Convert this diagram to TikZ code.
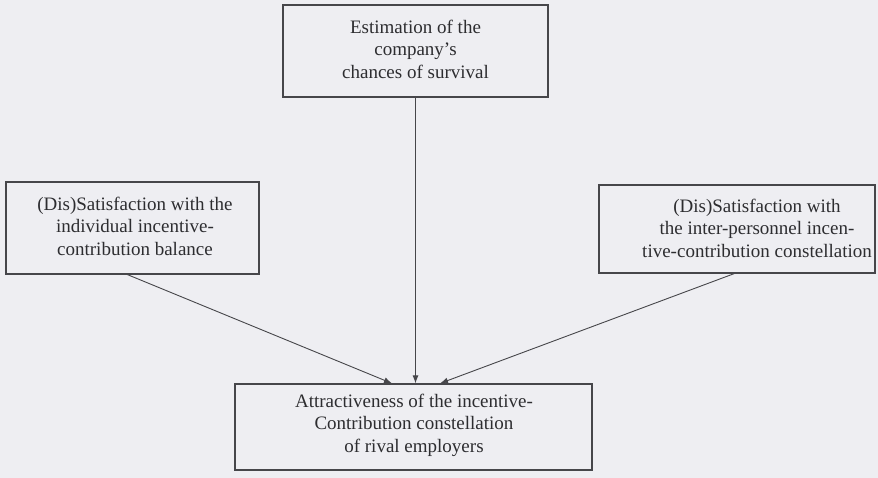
\documentclass[tikz,border=0pt]{standalone}
\usepackage{fontspec}
\setmainfont{Liberation Serif}
\usetikzlibrary{arrows.meta,calc}
\definecolor{paper}{RGB}{238,238,242}
\definecolor{ink}{RGB}{70,70,74}
\definecolor{txt}{RGB}{45,45,48}
\begin{document}
\begin{tikzpicture}[x=1pt,y=-1pt,
  box/.style={draw=ink, line width=1.2pt, fill=paper, inner sep=0pt},
  lbl/.style={font=\fontsize{19}{22.5}\selectfont, text=txt, align=center, inner sep=0pt},
  conn/.style={draw=ink, line width=0.9pt, -{Latex[length=8pt,width=6pt]}}]
\fill[paper] (0,0) rectangle (878,478);
\useasboundingbox (0,0) rectangle (878,478);

\node[box, minimum width=265pt, minimum height=92pt] (top) at (415.5,51) {};
\node[lbl] (toptext) at (415.5,49) {Estimation of the\\company’s\\chances of survival};

\node[box, minimum width=253pt, minimum height=92pt] (lb) at (132.5,228) {};
\node[lbl] (lbtext) at (135,226) {(Dis)Satisfaction with the\\individual incentive-\\contribution balance};

\node[box, minimum width=276pt, minimum height=88pt] (rb) at (737,229) {};
\node[lbl] (rbtext) at (757,228) {(Dis)Satisfaction with\\the inter-personnel incen-\\tive-contribution constellation};

\node[box, minimum width=357pt, minimum height=86pt] (bot) at (413.5,427) {};
\node[lbl] (bottext) at (414,425) {Attractiveness of the incentive-\\Contribution constellation\\of rival employers};

\draw[conn] (top.south) -- (top.south |- bot.north);
\draw[conn] ($(lb.south west)!0.48!(lb.south east)$) -- ($(bot.north west)!0.44!(bot.north east)$);
\draw[conn] ($(rb.south west)!0.49!(rb.south east)$) -- ($(bot.north west)!0.574!(bot.north east)$);
\end{tikzpicture}
\end{document}
